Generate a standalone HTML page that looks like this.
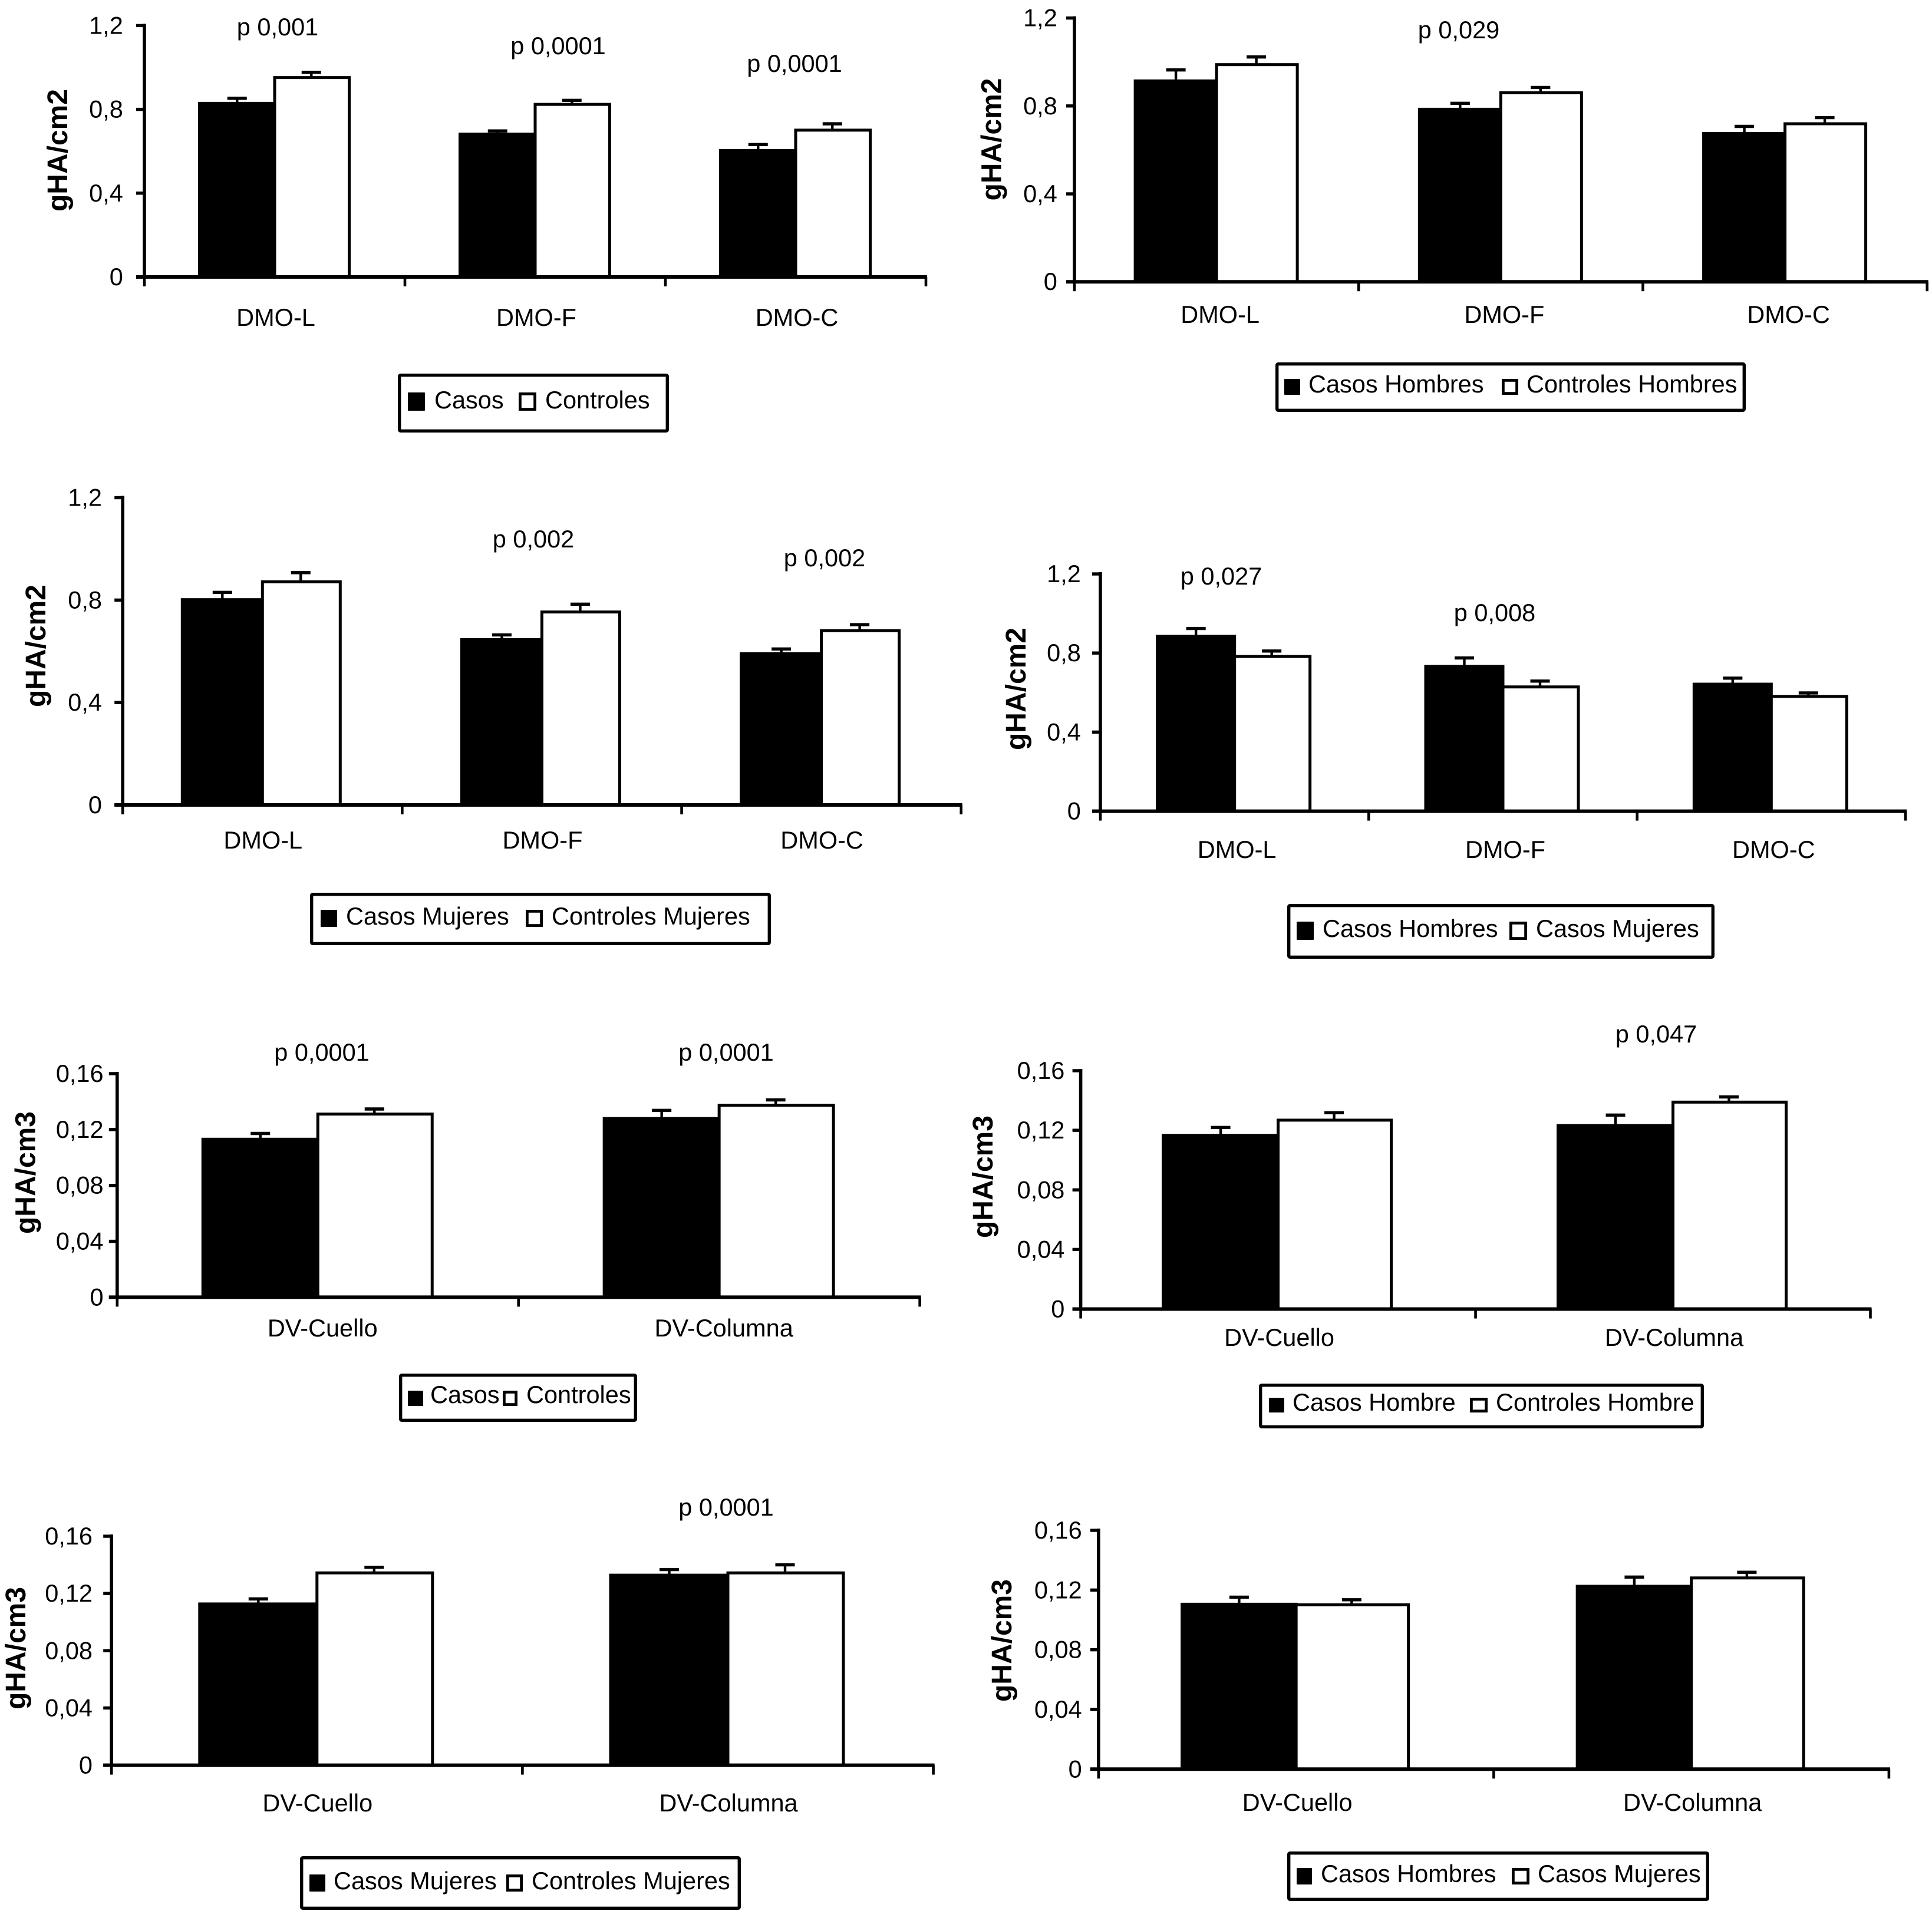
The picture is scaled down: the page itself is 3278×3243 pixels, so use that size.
<!DOCTYPE html>
<html lang="es">
<head>
<meta charset="utf-8">
<title>gHA charts</title>
<style>
html,body{margin:0;padding:0;background:#fff;}
body{width:3278px;height:3243px;overflow:hidden;}
svg{display:block;}
text{font-family:"Liberation Sans",Arial,sans-serif;fill:#000;}
</style>
</head>
<body>
<svg id="figure" xmlns="http://www.w3.org/2000/svg" width="3278" height="3243" viewBox="0 0 3278 3243"></svg>
<script>
// Shared categories and axis ticks
const dmoCategories = ['DMO-L', 'DMO-F', 'DMO-C'];
const dvCategories = ['DV-Cuello', 'DV-Columna'];
const dmoTickValues = [0, 0.4, 0.8, 1.2];
const dmoTickLabels = ['0', '0,4', '0,8', '1,2'];
const dvTickValues = [0, 0.04, 0.08, 0.12, 0.16];
const dvTickLabels = ['0', '0,04', '0,08', '0,12', '0,16'];

// Chart 1
const chart1Dark = [0.833, 0.686, 0.608];
const chart1DarkErr = [0.020, 0.011, 0.024];
const chart1Light = [0.956, 0.828, 0.705];
const chart1LightErr = [0.021, 0.015, 0.026];
// Chart 2
const chart2Dark = [0.918, 0.789, 0.679];
const chart2DarkErr = [0.046, 0.023, 0.028];
const chart2Light = [0.992, 0.864, 0.723];
const chart2LightErr = [0.031, 0.020, 0.024];
// Chart 3
const chart3Dark = [0.805, 0.649, 0.594];
const chart3DarkErr = [0.025, 0.015, 0.015];
const chart3Light = [0.875, 0.757, 0.684];
const chart3LightErr = [0.032, 0.027, 0.020];
// Chart 4
const chart4Dark = [0.889, 0.737, 0.647];
const chart4DarkErr = [0.035, 0.038, 0.026];
const chart4Light = [0.787, 0.633, 0.585];
const chart4LightErr = [0.023, 0.025, 0.013];
// Chart 5
const chart5Dark = [0.1137, 0.1285];
const chart5DarkErr = [0.0035, 0.0052];
const chart5Light = [0.1317, 0.1380];
const chart5LightErr = [0.0030, 0.0032];
// Chart 6
const chart6Dark = [0.1172, 0.1238];
const chart6DarkErr = [0.0047, 0.0064];
const chart6Light = [0.1274, 0.1395];
const chart6LightErr = [0.0044, 0.0029];
// Chart 7
const chart7Dark = [0.1133, 0.1334];
const chart7DarkErr = [0.0029, 0.0033];
const chart7Light = [0.1350, 0.1350];
const chart7LightErr = [0.0033, 0.0050];
// Chart 8
const chart8Dark = [0.1111, 0.1231];
const chart8DarkErr = [0.0041, 0.0056];
const chart8Light = [0.1107, 0.1287];
const chart8LightErr = [0.0028, 0.0032];

// Layout of each panel (pixel geometry only)
const panels = [
  {id:'chart-1', cats:dmoCategories, ticks:dmoTickValues, tickText:dmoTickLabels, dark:chart1Dark, darkErr:chart1DarkErr, light:chart1Light, lightErr:chart1LightErr,
   x0:245, x1:1571, yTop:43.4, y0:470, barW:127.5, lightTrim:1, tickGap:35, catY:553, catDx:2, unit:'gHA/cm2', titleX:114, titleY:255,
   notes:[['p 0,001',471,60],['p 0,0001',947,92],['p 0,0001',1348,122]],
   legend:{box:[677,636,1134,733], dark:[693,666,721,696], light:[883,666,909,696], textY:693, darkText:'Casos', darkX:737, lightText:'Controles', lightX:925}},
  {id:'chart-2', cats:dmoCategories, ticks:dmoTickValues, tickText:dmoTickLabels, dark:chart2Dark, darkErr:chart2DarkErr, light:chart2Light, lightErr:chart2LightErr,
   x0:1823, x1:3269.7, yTop:30.6, y0:478.2, barW:138, lightTrim:1, tickGap:28, catY:548, catDx:6, unit:'gHA/cm2', titleX:1698.5, titleY:236.5,
   notes:[['p 0,029',2475,65]],
   legend:{box:[2166,617,2961,698], dark:[2180,643,2206,669], light:[2551,643,2575,669], textY:666, darkText:'Casos Hombres', darkX:2220, lightText:'Controles Hombres', lightX:2590}},
  {id:'chart-3', cats:dmoCategories, ticks:dmoTickValues, tickText:dmoTickLabels, dark:chart3Dark, darkErr:chart3DarkErr, light:chart3Light, lightErr:chart3LightErr,
   x0:208.2, x1:1630.7, yTop:844.5, y0:1366, barW:136, lightTrim:4, tickGap:34, catY:1440, catDx:1, unit:'gHA/cm2', titleX:77, titleY:1096,
   notes:[['p 0,002',905,929],['p 0,002',1399,961]],
   legend:{box:[528,1517,1307,1603], dark:[545,1544,572,1572], light:[895,1544,920,1572], textY:1569, darkText:'Casos Mujeres', darkX:587, lightText:'Controles Mujeres', lightX:936}},
  {id:'chart-4', cats:dmoCategories, ticks:dmoTickValues, tickText:dmoTickLabels, dark:chart4Dark, darkErr:chart4DarkErr, light:chart4Light, lightErr:chart4LightErr,
   x0:1867, x1:3233, yTop:974, y0:1376.6, barW:131, lightTrim:3, tickGap:32, catY:1456, catDx:4, unit:'gHA/cm2', titleX:1740, titleY:1169,
   notes:[['p 0,027',2072,992],['p 0,008',2536,1054]],
   legend:{box:[2186,1536,2908,1626], dark:[2201,1564,2229,1594], light:[2564,1564,2590,1594], textY:1590, darkText:'Casos Hombres', darkX:2244, lightText:'Casos Mujeres', lightX:2606}},
  {id:'chart-5', cats:dvCategories, ticks:dvTickValues, tickText:dvTickLabels, dark:chart5Dark, darkErr:chart5DarkErr, light:chart5Light, lightErr:chart5LightErr,
   x0:198.8, x1:1560.6, yTop:1822, y0:2201.4, barW:195, lightTrim:1, tickGap:22, catY:2268, catDx:8, unit:'gHA/cm3', titleX:59.5, titleY:1990,
   notes:[['p 0,0001',546,1800],['p 0,0001',1232,1800]],
   legend:{box:[679,2333,1080,2412], dark:[693,2360,718,2385], light:[856,2360,877,2385], textY:2381, darkText:'Casos', darkX:730, lightText:'Controles', lightX:893}},
  {id:'chart-6', cats:dvCategories, ticks:dvTickValues, tickText:dvTickLabels, dark:chart6Dark, darkErr:chart6DarkErr, light:chart6Light, lightErr:chart6LightErr,
   x0:1833.6, x1:3173.5, yTop:1817, y0:2221.5, barW:195, lightTrim:3, tickGap:26, catY:2284, catDx:2, unit:'gHA/cm3', titleX:1684, titleY:1997,
   notes:[['p 0,047',2810,1769]],
   legend:{box:[2138,2350,2890,2423], dark:[2154,2372,2179,2396], light:[2497,2372,2523,2396], textY:2394, darkText:'Casos Hombre', darkX:2193, lightText:'Controles Hombre', lightX:2538}},
  {id:'chart-7', cats:dvCategories, ticks:dvTickValues, tickText:dvTickLabels, dark:chart7Dark, darkErr:chart7DarkErr, light:chart7Light, lightErr:chart7LightErr,
   x0:189.2, x1:1583.6, yTop:2607, y0:2995.6, barW:199, lightTrim:3, tickGap:31, catY:3074, catDx:1, unit:'gHA/cm3', titleX:43, titleY:2797,
   notes:[['p 0,0001',1232,2572]],
   legend:{box:[511,3152,1256,3240], dark:[526,3181,552,3209], light:[862,3181,886,3209], textY:3206, darkText:'Casos Mujeres', darkX:566, lightText:'Controles Mujeres', lightX:902}},
  {id:'chart-8', cats:dvCategories, ticks:dvTickValues, tickText:dvTickLabels, dark:chart8Dark, darkErr:chart8DarkErr, light:chart8Light, lightErr:chart8LightErr,
   x0:1863.9, x1:3204.9, yTop:2597, y0:3002.3, barW:193.5, lightTrim:3, tickGap:27, catY:3073, catDx:2, unit:'gHA/cm3', titleX:1716, titleY:2784,
   notes:[],
   legend:{box:[2186,3144,2899,3225], dark:[2201,3170,2226,3197], light:[2568,3170,2594,3197], textY:3194, darkText:'Casos Hombres', darkX:2241, lightText:'Casos Mujeres', lightX:2609}}
];

const SVGNS = 'http://www.w3.org/2000/svg';
const figure = document.getElementById('figure');
const FONT = 41.5;
const STROKE = 5;

function mk(parent, tag, attrs, txt) {
  const el = document.createElementNS(SVGNS, tag);
  for (const k in attrs) el.setAttribute(k, attrs[k]);
  if (txt !== undefined) el.textContent = txt;
  parent.appendChild(el);
  return el;
}

function drawPanel(p) {
  const g = mk(figure, 'g', {});
  
  

  const maxV = p.ticks[p.ticks.length - 1];
  const yScale = v => p.y0 - (v / maxV) * (p.y0 - p.yTop);
  const band = (p.x1 - p.x0) / p.cats.length;
  const xCenter = i => p.x0 + band * (i + 0.5);

  // Bars and error bars
  function series(values, errs, side, fill, label) {
    const w = side < 0 ? p.barW : p.barW - p.lightTrim;
    values.forEach((v, i) => {
      const left = side < 0 ? xCenter(i) - w : xCenter(i);
      const mid = left + w / 2 - (side > 0 ? 1 : 0);
      const topY = yScale(v);
      const errY = yScale(v + errs[i]);
      const stem = mk(g, 'line', {x1:mid, x2:mid, y1:topY, y2:errY, stroke:'#000', 'stroke-width':4.4});
      
      
      const cap = mk(g, 'line', {x1:mid - 16.5, x2:mid + 16.5, y1:errY, y2:errY, stroke:'#000', 'stroke-width':5.4});
      
      
      const rectTop = topY + 1.5;
      const bar = mk(g, 'rect', {x:left, y:rectTop, width:w, height:p.y0 - rectTop, fill:fill, stroke:'#000', 'stroke-width':STROKE});
      
      
    });
  }
  series(p.dark, p.darkErr, -1, '#000', 'dark-series');
  series(p.light, p.lightErr, 1, '#fff', 'light-series');

  // Y axis
  const yAxis = mk(g, 'line', {x1:p.x0, x2:p.x0, y1:p.yTop - 3, y2:p.y0 + 3, stroke:'#000', 'stroke-width':5.6});
  
  
  p.ticks.forEach((t, i) => {
    const yy = yScale(t);
    const tick = mk(g, 'line', {x1:p.x0 - 14, x2:p.x0, y1:yy, y2:yy, stroke:'#000', 'stroke-width':5.4});
    
    
    const lab = mk(g, 'text', {x:p.x0 - 1.2 - p.tickGap, y:yy + 14, 'text-anchor':'end', 'font-size':FONT}, p.tickText[i]);
    
    
  });

  // X axis
  const xAxis = mk(g, 'line', {x1:p.x0 - 14, x2:p.x1 + 2, y1:p.y0, y2:p.y0, stroke:'#000', 'stroke-width':6});
  
  
  for (let i = 0; i <= p.cats.length; i++) {
    const xx = p.x0 + band * i;
    const tick = mk(g, 'line', {x1:xx, x2:xx, y1:p.y0, y2:p.y0 + 16, stroke:'#000', 'stroke-width':4.6});
    
    
  }
  p.cats.forEach((c, i) => {
    const lab = mk(g, 'text', {x:xCenter(i) + p.catDx, y:p.catY, 'text-anchor':'middle', 'font-size':FONT}, c);
    
    
  });

  // Y title
  const title = mk(g, 'text', {
    transform:'translate(' + p.titleX + ',' + p.titleY + ') rotate(-90)',
    'text-anchor':'middle', 'font-size':48, 'font-weight':'bold',
    textLength:208, lengthAdjust:'spacingAndGlyphs'
  }, p.unit);
  
  

  // p-value notes
  p.notes.forEach(n => {
    const note = mk(g, 'text', {x:n[1], y:n[2], 'text-anchor':'middle', 'font-size':FONT}, n[0]);
    
    
  });

  // Legend
  const L = p.legend;
  const lg = mk(g, 'g', {});
  
  
  const bx0 = L.box[0] - 2, by0 = L.box[1] - 2, bx1 = L.box[2] + 1, by1 = L.box[3] + 1;
  const box = mk(lg, 'rect', {x:bx0 + 2.7, y:by0 + 2.7, width:bx1 - bx0 - 5.4, height:by1 - by0 - 5.4, rx:2, fill:'#fff', stroke:'#000', 'stroke-width':5.4});
  
  
  const sd = mk(lg, 'rect', {x:L.dark[0] - 1, y:L.dark[1], width:L.dark[2] - L.dark[0] + 1, height:L.dark[3] - L.dark[1] + 1, rx:1, fill:'#000'});
  
  
  const td = mk(lg, 'text', {x:L.darkX, y:L.textY, 'font-size':FONT}, L.darkText);
  
  
  const sx0 = L.light[0] - 3, sx1 = L.light[2] + 1, sy0 = L.light[1], sy1 = L.light[3] + 1;
  const sl = mk(lg, 'rect', {x:sx0 + 2.4, y:sy0 + 2.4, width:sx1 - sx0 - 4.8, height:sy1 - sy0 - 4.8, fill:'#fff', stroke:'#000', 'stroke-width':4.8});
  
  
  const tl = mk(lg, 'text', {x:L.lightX, y:L.textY, 'font-size':FONT}, L.lightText);
  
  
}

panels.forEach(drawPanel);
</script>
</body>
</html>
